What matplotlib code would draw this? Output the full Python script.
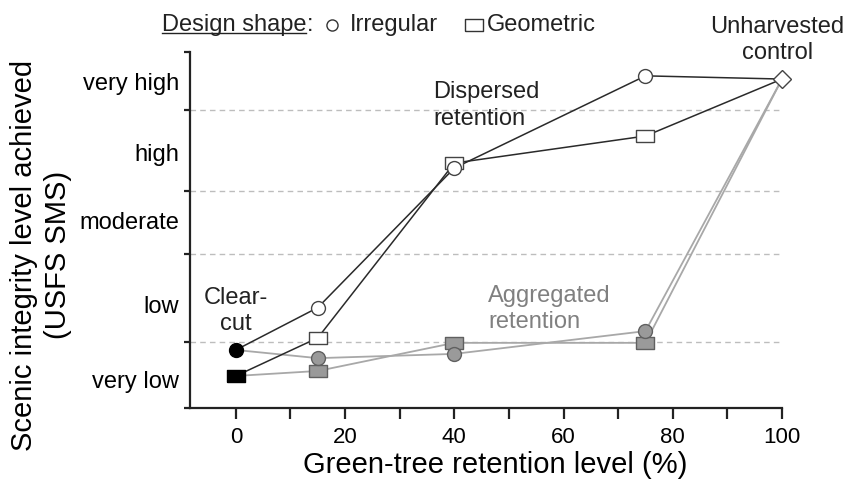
import matplotlib.pyplot as plt
from matplotlib.lines import Line2D

plt.rcParams["font.family"] = ["Liberation Sans", "DejaVu Sans"]

# Data (y on a 0-100 scenic-integrity scale)
retention = [0, 15, 40, 75, 100]
dispersed_irregular = [16.3, 28.2, 67.4, 93.3, 92.4]
dispersed_geometric = [9.0, 19.7, 68.8, 76.4, 92.4]
aggregated_irregular = [16.3, 14.0, 15.2, 21.6, 92.4]
aggregated_geometric = [9.0, 10.4, 18.3, 18.3, 92.4]

level_names = ["very low", "low", "moderate", "high", "very high"]
level_label_pos = [7.9, 29.0, 52.8, 71.9, 91.6]
level_bounds = [0, 18.5, 43.3, 61.0, 83.7, 100]

W, H = 845, 479
fig = plt.figure(figsize=(W / 100, H / 100), dpi=100)
ax = fig.add_axes([190 / W, 1 - 408 / H, (782 - 190) / W, (408 - 52) / H])

BLACK = "#2a2a2a"
GRAY_LINE = "#a8a8a8"
GRAY_FILL = "#9a9a9a"
GRAY_EDGE = "#606060"

# rectangle marker (wider than tall)
rect = [(-1.4, -1), (1.4, -1), (1.4, 1), (-1.4, 1), (-1.4, -1)]

# gridlines at level boundaries
ax.hlines(level_bounds[1:-1], -8.4, 100, colors="#bdbdbd",
          linestyles=(0, (4, 3)), linewidth=1, zorder=1)

# aggregated retention (gray)
ax.plot(retention, aggregated_irregular, color=GRAY_LINE, lw=1.3, zorder=2)
ax.plot(retention, aggregated_geometric, color=GRAY_LINE, lw=1.3, zorder=2)
ax.plot(retention[1:4], aggregated_geometric[1:4], ls="none", marker=rect,
        ms=13, mfc=GRAY_FILL, mec=GRAY_EDGE, mew=1, zorder=3)
ax.plot(retention[1:4], aggregated_irregular[1:4], ls="none", marker="o",
        ms=10, mfc=GRAY_FILL, mec=GRAY_EDGE, mew=1, zorder=3)

# dispersed retention (black lines, open markers)
ax.plot(retention, dispersed_irregular, color=BLACK, lw=1.1, zorder=4)
ax.plot(retention, dispersed_geometric, color=BLACK, lw=1.1, zorder=4)
ax.plot(retention[1:4], dispersed_geometric[1:4], ls="none", marker=rect,
        ms=13, mfc="white", mec="#444444", mew=1, zorder=5)
ax.plot(retention[1:4], dispersed_irregular[1:4], ls="none", marker="o",
        ms=10, mfc="white", mec="#444444", mew=1, zorder=5)

# clear-cut and unharvested control
ax.plot(retention[0], dispersed_irregular[0], marker="o", ms=10,
        color="black", zorder=6)
ax.plot(retention[0], dispersed_geometric[0], marker=rect, ms=13,
        color="black", zorder=6)
ax.plot(retention[-1], dispersed_irregular[-1], marker="D", ms=9,
        mfc="white", mec="#444444", mew=1, zorder=6, clip_on=False)

ax.set_xlim(-8.4, 100)
ax.set_ylim(0, 100)

for s in ["top", "right"]:
    ax.spines[s].set_visible(False)
for s in ["left", "bottom"]:
    ax.spines[s].set_linewidth(1.6)
    ax.spines[s].set_color("#222222")

ax.set_xticks(range(0, 101, 20))
ax.set_xticks(range(10, 100, 20), minor=True)
ax.tick_params(axis="x", which="both", direction="out", length=8, width=1.6,
               color="#222222", labelsize=16, pad=6)

ax.set_yticks(level_bounds)
ax.set_yticklabels([])
ax.set_yticks(level_label_pos, minor=True)
ax.set_yticklabels(level_names, minor=True)
ax.tick_params(axis="y", which="major", direction="out", length=4, width=1.6,
               color="#222222")
ax.tick_params(axis="y", which="minor", length=0, labelsize=17, pad=8)

ax.set_xlabel("Green-tree retention level (%)", fontsize=21, labelpad=0)
ax.xaxis.set_label_coords((495 - 190) / (782 - 190), -(465 - 408) / 356)
ax.xaxis.label.set_va("center")

fig.text(41 / W, 1 - 255 / H,
         "Scenic integrity level achieved\n(USFS SMS)",
         rotation=90, fontsize=21, ha="center", va="center",
         multialignment="center", linespacing=1.3)

# annotations
ax.text(0, 27.2, "Clear-\ncut", fontsize=17, ha="center", va="center",
        linespacing=1.25, color="#222222")
ax.text(36.1, 85.0, "Dispersed\nretention", fontsize=17, ha="left",
        va="center", linespacing=1.25, color="#222222")
ax.text(46.2, 27.8, "Aggregated\nretention", fontsize=17, ha="left",
        va="center", linespacing=1.25, color="#808080")
ax.text(99.2, 103.4, "Unharvested\ncontrol", fontsize=17, ha="center",
        va="center", linespacing=1.25, color="#222222", clip_on=False)

# legend across the top
def fx(px):
    return px / W

def fy(py):
    return 1 - py / H

t = fig.text(fx(162), fy(25), "Design shape", fontsize=17, ha="left",
             va="center", color="#222222")
fig.canvas.draw()
bb = t.get_window_extent()
fig.add_artist(Line2D([bb.x0 / W, bb.x1 / W], [fy(33), fy(33)],
                      transform=fig.transFigure, color="#222222", lw=1))
fig.text(bb.x1 / W, fy(25), ":", fontsize=17, ha="left", va="center",
         color="#222222")
fig.add_artist(Line2D([fx(332)], [fy(25)], transform=fig.transFigure,
                      marker="o", ms=8, mfc="white", mec="#333333", mew=1))
fig.text(fx(350), fy(25), "Irregular", fontsize=17, ha="left", va="center",
         color="#222222")
fig.add_artist(Line2D([fx(474)], [fy(25)], transform=fig.transFigure,
                      marker=rect, ms=12.5, mfc="white", mec="#333333", mew=1))
fig.text(fx(487), fy(25), "Geometric", fontsize=17, ha="left", va="center",
         color="#222222")

fig.savefig("out.png", dpi=100)
